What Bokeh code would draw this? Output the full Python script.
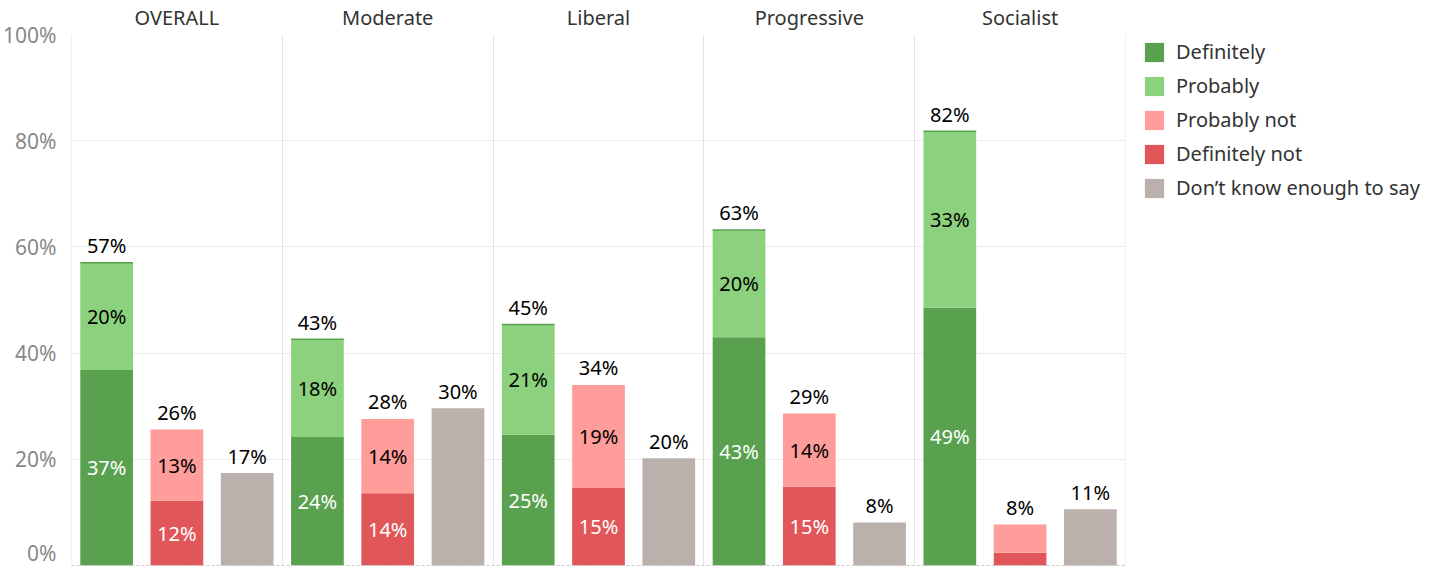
from bokeh.plotting import figure
from bokeh.models import (Range1d, LinearAxis, FixedTicker, Span, Legend, LegendItem, Grid)
from bokeh.core.properties import value
from bokeh.embed import file_html
from bokeh.resources import INLINE

# ---- data (percent of respondents) ----
groups = ["OVERALL", "Moderate", "Liberal", "Progressive", "Socialist"]
definitely = [36.8, 24.2, 24.6, 43.0, 48.6]
probably = [20.2, 18.4, 20.8, 20.2, 33.2]
probably_not = [13.4, 14.0, 19.4, 13.8, 5.3]
definitely_not = [12.2, 13.6, 14.6, 14.8, 2.4]
dont_know = [17.4, 29.6, 20.2, 8.1, 10.6]
y_ticks = [0, 20, 40, 60, 80, 100]

series_names = ["Definitely", "Probably", "Probably not", "Definitely not",
                "Don\u2019t know enough to say"]
colors = ["#59a14f", "#8cd17d", "#ff9d9a", "#e15759", "#bab0ac"]

FONT = "Noto Sans"
BAR_W = 0.25
offsets = [1 / 6, 0.5, 5 / 6]
FRAME_W, FRAME_H = 1054, 532

p = figure(frame_width=FRAME_W, frame_height=FRAME_H,
           x_range=Range1d(0, 5), y_range=Range1d(-0.2, 100),
           output_backend="svg", toolbar_location=None,
           x_axis_location=None,
           min_border_left=10, min_border_top=10, min_border_bottom=0,
           min_border_right=300)
p.outline_line_color = None
p.background_fill_color = "white"

# grids
p.ygrid.ticker = FixedTicker(ticks=y_ticks[1:])
p.ygrid.grid_line_color = "#ececec"
p.add_layout(Grid(dimension=0, ticker=FixedTicker(ticks=[0.002, 1, 2, 3, 4, 4.998]),
                  grid_line_color="#e4e4e4"))
p.add_layout(Span(location=0, dimension="width", line_color="#c8c8c8",
                  line_dash="3 2", line_width=1))

# y axis
p.yaxis.ticker = FixedTicker(ticks=y_ticks)
p.yaxis.major_label_overrides = {t: f"{t}%" for t in y_ticks}
p.yaxis.axis_line_color = None
p.yaxis.major_tick_line_color = None
p.yaxis.minor_tick_line_color = None
p.yaxis.major_tick_out = 0
p.yaxis.major_label_standoff = 15
p.yaxis.major_label_text_font = FONT
p.yaxis.major_label_text_font_size = "21px"
p.yaxis.major_label_text_color = "#888888"

# panel titles (axis above)
centers = [i + 0.5 for i in range(len(groups))]
top_axis = LinearAxis(ticker=FixedTicker(ticks=centers),
                      major_label_overrides={c: g for c, g in zip(centers, groups)})
top_axis.axis_line_color = None
top_axis.major_tick_line_color = None
top_axis.minor_tick_line_color = None
top_axis.major_tick_out = 0
top_axis.major_label_standoff = 4
top_axis.major_label_text_font = FONT
top_axis.major_label_text_font_size = "20px"
top_axis.major_label_text_color = "#333333"
p.add_layout(top_axis, "above")

n = len(groups)
x_yes = [i + offsets[0] for i in range(n)]
x_no = [i + offsets[1] for i in range(n)]
x_dk = [i + offsets[2] for i in range(n)]

yes_total = [a + b for a, b in zip(definitely, probably)]
no_total = [a + b for a, b in zip(definitely_not, probably_not)]

r_def = p.vbar(x=x_yes, bottom=0, top=definitely, width=BAR_W, color=colors[0], line_color=None)
r_prob = p.vbar(x=x_yes, bottom=definitely, top=yes_total, width=BAR_W, color=colors[1], line_color=None)
r_dnot = p.vbar(x=x_no, bottom=0, top=definitely_not, width=BAR_W, color=colors[3], line_color=None)
r_pnot = p.vbar(x=x_no, bottom=definitely_not, top=no_total, width=BAR_W, color=colors[2], line_color=None)
r_dk = p.vbar(x=x_dk, bottom=0, top=dont_know, width=BAR_W, color=colors[4], line_color=None)
# thin darker edge on top of the "yes" stacks
p.segment(x0=[x - BAR_W / 2 for x in x_yes], x1=[x + BAR_W / 2 for x in x_yes],
          y0=yes_total, y1=yes_total, line_color=colors[0], line_width=1.5)

# segment labels
MIN_SEG = 6
seg_x, seg_y, seg_t, seg_c = [], [], [], []
for xs, bottoms, vals, col in [
    (x_yes, [0] * n, definitely, "white"),
    (x_yes, definitely, probably, "black"),
    (x_no, [0] * n, definitely_not, "white"),
    (x_no, definitely_not, probably_not, "black"),
]:
    for x, b, v in zip(xs, bottoms, vals):
        if v >= MIN_SEG:
            seg_x.append(x)
            seg_y.append(b + v / 2)
            seg_t.append(f"{round(v)}%")
            seg_c.append(col)
p.text(x=seg_x, y=seg_y, text=seg_t, text_color=seg_c,
       text_align="center", text_baseline="middle",
       text_font=value(FONT), text_font_size="20px")

# total labels
tot_x = x_yes + x_no + x_dk
tot_y = yes_total + no_total + dont_know
tot_t = [f"{round(v)}%" for v in tot_y]
p.text(x=tot_x, y=tot_y, text=tot_t, text_color="black", y_offset=-17,
       text_align="center", text_baseline="middle",
       text_font=value(FONT), text_font_size="20px")

LEG_H = 5 * 27 + 4 * 7
legend = Legend(items=[
    LegendItem(label=series_names[0], renderers=[r_def]),
    LegendItem(label=series_names[1], renderers=[r_prob]),
    LegendItem(label=series_names[2], renderers=[r_pnot]),
    LegendItem(label=series_names[3], renderers=[r_dnot]),
    LegendItem(label=series_names[4], renderers=[r_dk]),
], location=(17, FRAME_H - 4 - LEG_H))
legend.glyph_width = 24
legend.glyph_height = 24
legend.spacing = 7
legend.label_standoff = 10
legend.label_text_font = FONT
legend.label_text_font_size = "20px"
legend.label_text_color = "#333333"
legend.border_line_color = None
legend.background_fill_alpha = 0
legend.margin = 0
legend.padding = 0
p.add_layout(legend, "right")

open("out.html", "w").write(file_html(p, INLINE))
